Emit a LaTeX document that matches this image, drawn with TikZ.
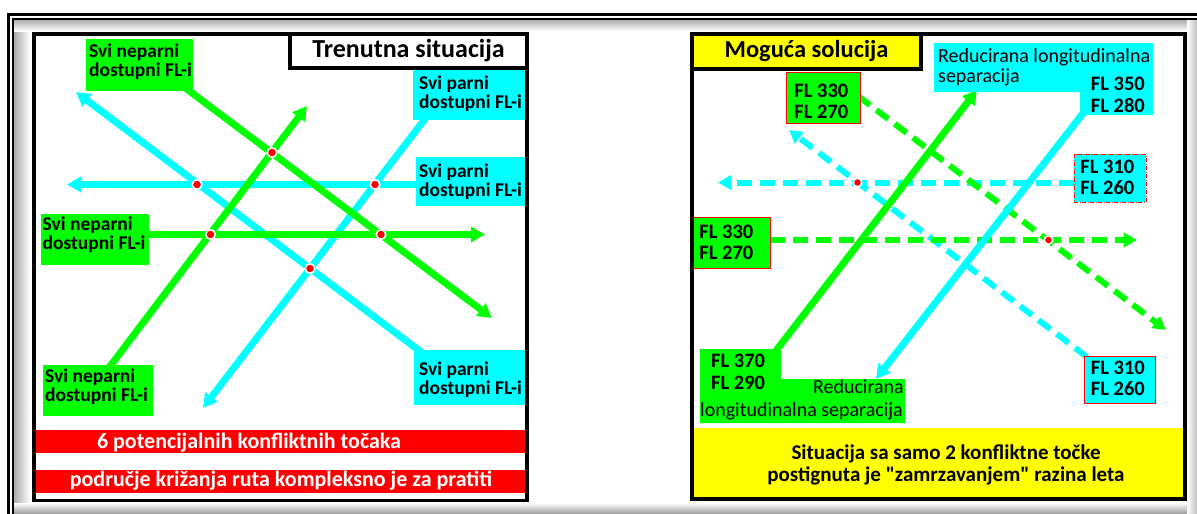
\documentclass[tikz,border=0pt]{standalone}
\usepackage{fontspec}
\setmainfont{Carlito}[Ligatures=TeXOff]
\usetikzlibrary{arrows.meta}
\definecolor{gr}{RGB}{0,255,0}
\definecolor{cy}{RGB}{0,255,255}
\definecolor{rd}{RGB}{255,0,0}
\definecolor{yl}{RGB}{255,255,0}
\newcommand\boxtext[4]{\makebox[#1][l]{\hspace{#2}\vtop{\hbox{#3}\hbox{#4}}}}
\begin{document}
\begin{tikzpicture}[x=1pt,y=-1pt,
  route/.style={line width=7pt,-{Triangle[length=14pt,width=15pt]}},
  groute/.style={route,draw=gr},
  croute/.style={route,draw=cy},
  droute/.style={line width=6pt,dash pattern=on 15pt off 8pt,-{Triangle[length=13pt,width=14pt]}},
  conf/.style={circle,fill=rd,draw=white,line width=1.6pt,minimum size=9.5pt,inner sep=0pt},
  labfont/.style={font=\fontsize{19.5}{19.5}\selectfont\bfseries},
  flfont/.style={font=\fontsize{20.5}{21}\selectfont\bfseries},
  regfont/.style={font=\fontsize{20}{20}\selectfont},
  lbox/.style={labfont,inner sep=0pt,anchor=north west,text=black},
  flbox/.style={flfont,inner sep=0pt,anchor=north west,text=black,draw=rd,line width=0.9pt},
  panel/.style={draw=black,line width=3.6pt},
  titlefont/.style={font=\fontsize{24.5}{26}\selectfont\bfseries},
  bartext/.style={font=\fontsize{22}{24}\selectfont\bfseries,text=white,anchor=base,inner sep=0pt},
  ytext/.style={font=\fontsize{21}{23}\selectfont\bfseries,text=black,anchor=base,inner sep=0pt}
]
\useasboundingbox (0,0) rectangle (1197,514);
\fill[white] (0,0) rectangle (1197,514);
% outer frame with soft inner shading
\shade[left color=black!35,right color=white] (13,19) rectangle (30,514);
\shade[top color=black!35,bottom color=white] (13,19) rectangle (1197,31);
\shade[top color=white,bottom color=black!40] (13,503) rectangle (1197,514);
\shade[left color=white,right color=black!25] (1187,19) rectangle (1197,514);
\draw[line width=3.8pt] (8.5,520) -- (8.5,14.5) -- (1205,14.5);
\draw[line width=1.2pt] (13,520) -- (13,19) -- (1205,19);

% panels
\fill[white] (34,34) rectangle (527,500.5);
\fill[white] (692,34) rectangle (1185,499);

% ---------- left panel routes ----------
\coordinate (g1s) at (180,84);   \coordinate (g1e) at (492,318);
\coordinate (g2s) at (108,369);  \coordinate (g2e) at (307,106);
\coordinate (g3s) at (140,234.5);\coordinate (g3e) at (485,234.5);
\coordinate (c1s) at (425,355);  \coordinate (c1e) at (76,92);
\coordinate (c2s) at (428,115);  \coordinate (c2e) at (203,408);
\coordinate (c3s) at (420,184.5);\coordinate (c3e) at (67,184.5);
\draw[croute] (c1s) -- (c1e);
\draw[croute] (c2s) -- (c2e);
\draw[croute] (c3s) -- (c3e);
\draw[groute] (g1s) -- (g1e);
\draw[groute] (g2s) -- (g2e);
\draw[groute] (g3s) -- (g3e);
\node[conf] (k1) at (272,152.5) {};
\node[conf] (k2) at (197,184.5) {};
\node[conf] (k3) at (375,184.5) {};
\node[conf] (k4) at (210.5,234.5) {};
\node[conf] (k5) at (381,234.5) {};
\node[conf] (k6) at (310,268.5) {};

% left panel labels
\node[lbox,fill=gr,text height=18pt,text depth=34pt] (gTL) at (86,39) {\boxtext{107pt}{3pt}{Svi neparni}{dostupni FL-i}};
\node[lbox,fill=cy,text height=19pt,text depth=31pt] (cTR) at (413,70) {\boxtext{113pt}{6pt}{Svi parni}{dostupni FL-i}};
\node[lbox,fill=cy,text height=20pt,text depth=29pt] (cMR) at (416,157) {\boxtext{110pt}{3pt}{Svi parni}{dostupni FL-i}};
\node[lbox,fill=gr,text height=16pt,text depth=35pt] (gML) at (41,214) {\boxtext{108pt}{1.5pt}{Svi neparni}{dostupni FL-i}};
\node[lbox,fill=gr,text height=17pt,text depth=34pt] (gBL) at (43,365) {\boxtext{110pt}{2pt}{Svi neparni}{dostupni FL-i}};
\node[lbox,fill=cy,text height=25pt,text depth=30pt] (cBR) at (414,350) {\boxtext{112pt}{5pt}{Svi parni}{dostupni FL-i}};

% red bars
\fill[rd] (35,430) rectangle (526,453);
\fill[rd] (35,470) rectangle (526,493);
\node[bartext] (b1) at (249,448.5) {6 potencijalnih konfliktnih točaka};
\node[bartext] (b2) at (281,486) {područje križanja ruta kompleksno je za pratiti};

\draw[panel] (34,34) rectangle (527,500.5);
\node[font=\fontsize{26}{28}\selectfont\bfseries,draw=black,line width=3.6pt,fill=white,minimum width=237pt,minimum height=34pt,inner sep=0pt,text height=17.5pt,text depth=4.5pt] (t1) at (408.5,51) {Trenutna situacija};

% ---------- right panel ----------
\fill[yl] (692,428) rectangle (1185,499);
\node[ytext] (y1) at (946,459) {Situacija sa samo 2 konfliktne točke};
\node[ytext] (y2) at (946,481.5) {postignuta je "zamrzavanjem" razina leta};

\coordinate (rg1s) at (775,352); \coordinate (rg1e) at (977,90);
\coordinate (rc1s) at (1084,112);\coordinate (rc1e) at (876,379);
\coordinate (rg2s) at (858,96);  \coordinate (rg2e) at (1166,330);
\coordinate (rc2s) at (1087,357);\coordinate (rc2e) at (789,130);
\coordinate (rc3s) at (1074,182.5);\coordinate (rc3e) at (718,182.5);
\coordinate (rg3s) at (770,240);\coordinate (rg3e) at (1137,240);
\draw[droute,draw=cy] (rc2s) -- (rc2e);
\draw[droute,draw=cy] (rc3s) -- (rc3e);
\draw[droute,draw=gr] (rg2s) -- (rg2e);
\draw[droute,draw=gr] (rg3s) -- (rg3e);
\draw[groute] (rg1s) -- (rg1e);
\draw[croute] (rc1s) -- (rc1e);
\node[conf,minimum size=8.5pt] (k7) at (857.5,182.5) {};
\node[conf,minimum size=8.5pt] (k8) at (1048.5,240) {};

% cyan L-shaped label (top right)
\fill[cy] (934,43) -- (1153,43) -- (1153,115) -- (1080,115) -- (1080,92) -- (934,92) -- cycle;
\node[regfont,anchor=base west,inner sep=0pt] (r1) at (938,62) {Reducirana longitudinalna};
\node[regfont,anchor=base west,inner sep=0pt] (r2) at (938,82) {separacija};
\node[flfont,anchor=base east,inner sep=0pt] (f1) at (1145,90) {FL 350};
\node[flfont,anchor=base east,inner sep=0pt] (f2) at (1145,112) {FL 280};

% green L-shaped label (bottom left)
\fill[gr] (700,349) -- (781,349) -- (781,379) -- (905,379) -- (905,423) -- (700,423) -- cycle;
\node[flfont,anchor=base west,inner sep=0pt] (f3) at (711,367) {FL 370};
\node[flfont,anchor=base west,inner sep=0pt] (f4) at (711,389) {FL 290};
\node[regfont,anchor=base east,inner sep=0pt] (r3) at (904,393) {Reducirana};
\node[regfont,anchor=base west,inner sep=0pt] (r4) at (700,416) {longitudinalna separacija};

% FL boxes
\node[flbox,fill=gr,text height=25pt,text depth=26pt] (fa) at (786,72) {\boxtext{74pt}{8pt}{FL 330}{FL 270}};
\node[flbox,fill=cy,text height=19pt,text depth=29pt,dash pattern=on 4pt off 1.5pt on 1pt off 1.5pt] (fb) at (1074,154) {\boxtext{72pt}{6pt}{FL 310}{FL 260}};
\node[flbox,fill=gr,text height=21pt,text depth=30pt] (fc) at (692,217) {\boxtext{78pt}{7pt}{FL 330}{FL 270}};
\node[flbox,fill=cy,text height=18pt,text depth=29pt] (fd) at (1084,356) {\boxtext{71pt}{6.5pt}{FL 310}{FL 260}};

\draw[panel] (692,34) rectangle (1185,499);
\node[titlefont,draw=black,line width=3.6pt,fill=yl,minimum width=229pt,minimum height=35pt,inner sep=0pt,text height=17pt,text depth=5pt] (t2) at (806.5,51.5) {Moguća solucija};
\end{tikzpicture}
\end{document}
